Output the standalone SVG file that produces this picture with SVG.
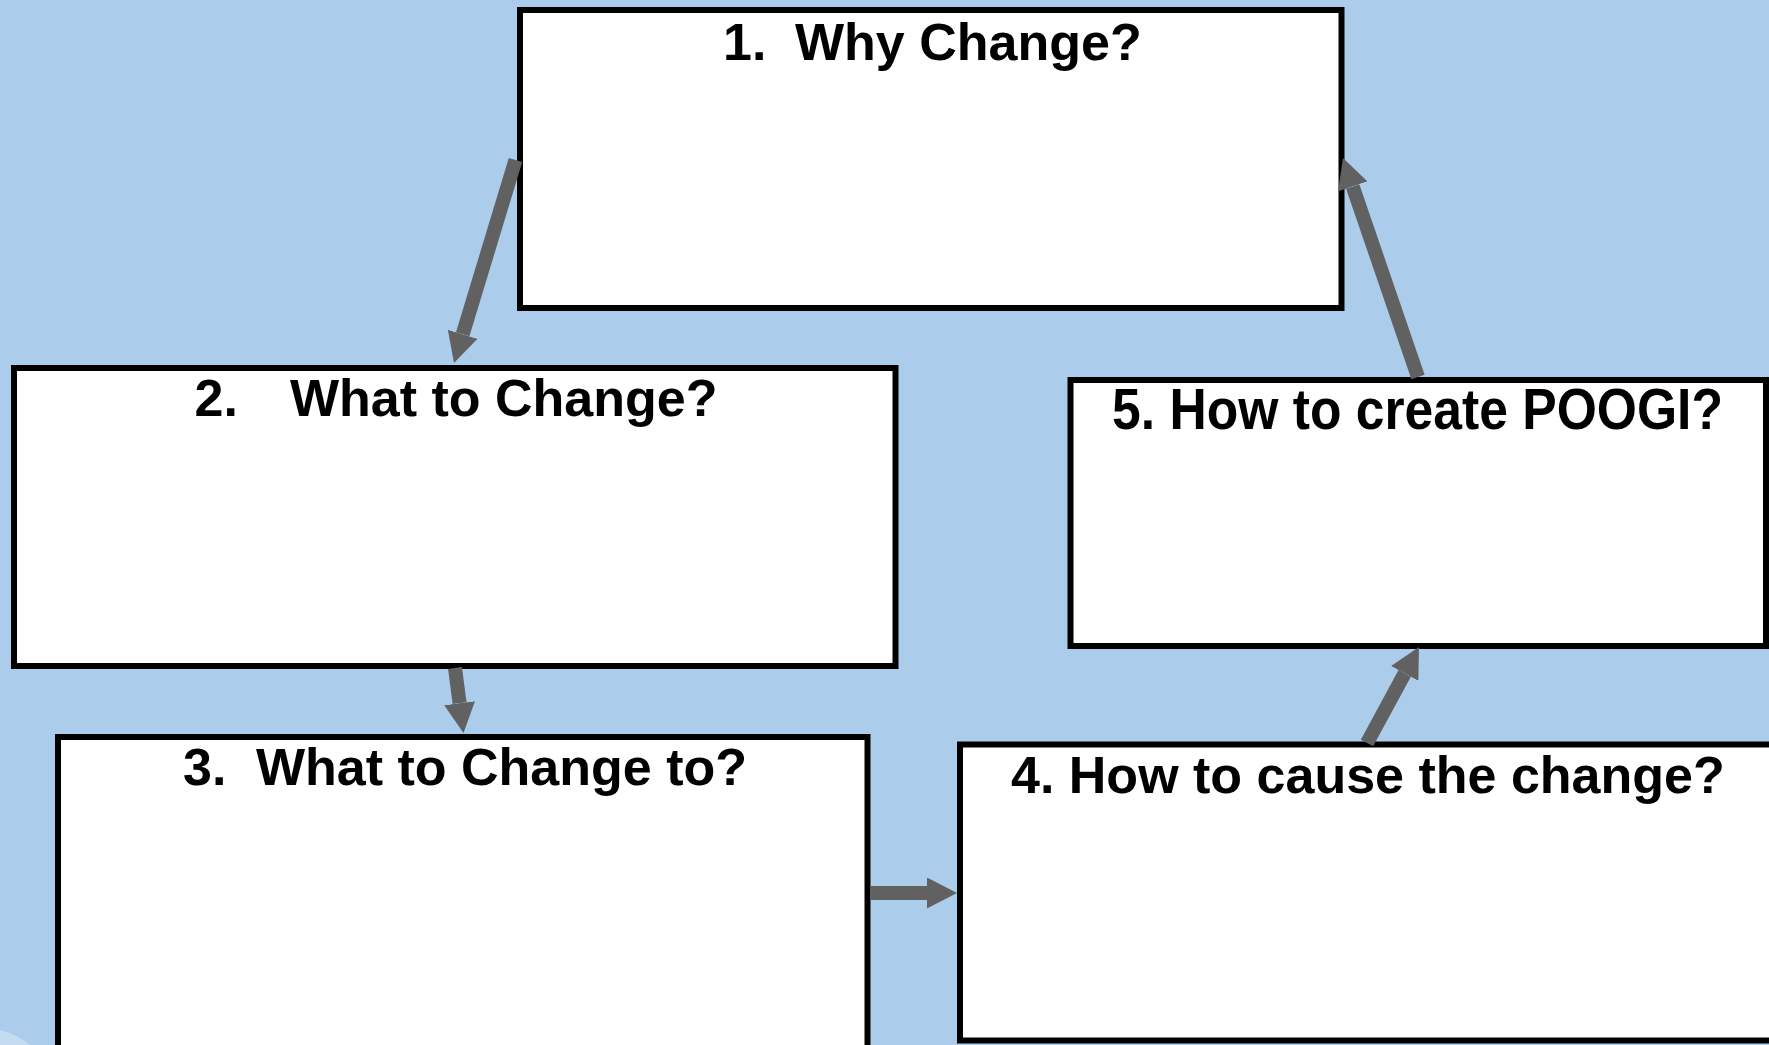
<svg xmlns="http://www.w3.org/2000/svg" width="1769" height="1045" viewBox="0 0 1769 1045">
  <style>
    .box { fill: #FFFFFF; stroke: #000000; stroke-width: 6; }
    .label { font-family: "Liberation Sans", Arial, sans-serif; font-weight: bold; font-size: 52px; fill: #000000; }
    .conn { stroke: #616161; stroke-width: 14; fill: none; stroke-linecap: butt; }
  </style>
  <defs>
    <marker id="head" markerUnits="userSpaceOnUse" viewBox="0 0 30 31" markerWidth="30" markerHeight="31" refX="0" refY="15.5" orient="auto">
      <path d="M0,0 L30,15.5 L0,31 Z" fill="#616161"/>
    </marker>
  </defs>
  <rect x="0" y="0" width="1769" height="1045" fill="#ABCDEB"/>
  <path d="M0,1030 Q18,1035 30,1045 L0,1045 Z" fill="#FFFFFF" opacity="0.3"/>

  <g id="node1">
    <rect class="box" x="520" y="10" width="821.5" height="298"/>
    <text class="label" y="60"><tspan x="723">1.</tspan><tspan x="795">Why Change?</tspan></text>
  </g>
  <g id="node2">
    <rect class="box" x="14" y="368" width="881.5" height="298"/>
    <text class="label" y="416"><tspan x="194.5">2.</tspan><tspan x="290">What to Change?</tspan></text>
  </g>
  <g id="node3">
    <rect class="box" x="58" y="737" width="809.5" height="360"/>
    <text class="label" y="785"><tspan x="183">3.</tspan><tspan x="256">What to Change to?</tspan></text>
  </g>
  <g id="node4">
    <rect class="box" x="960" y="744.5" width="860" height="296"/>
    <text class="label" x="1011" y="793">4. How to cause the change?</text>
  </g>
  <g id="node5">
    <rect class="box" x="1070.5" y="380" width="695.5" height="266"/>
    <text class="label" x="1112" y="429" style="font-size:57px" textLength="611" lengthAdjust="spacingAndGlyphs">5. How to create POOGI?</text>
  </g>

  <g id="connectors">
    <line class="conn" x1="515.5" y1="160" x2="462.7" y2="334.3" marker-end="url(#head)"/>
    <line class="conn" x1="455" y1="668" x2="459.6" y2="703.2" marker-end="url(#head)"/>
    <line class="conn" x1="870" y1="893" x2="927" y2="893" marker-end="url(#head)"/>
    <line class="conn" x1="1367" y1="743" x2="1404.7" y2="673.4" marker-end="url(#head)"/>
    <line class="conn" x1="1418" y1="377" x2="1352.7" y2="186.4" marker-end="url(#head)"/>
  </g>
</svg>
